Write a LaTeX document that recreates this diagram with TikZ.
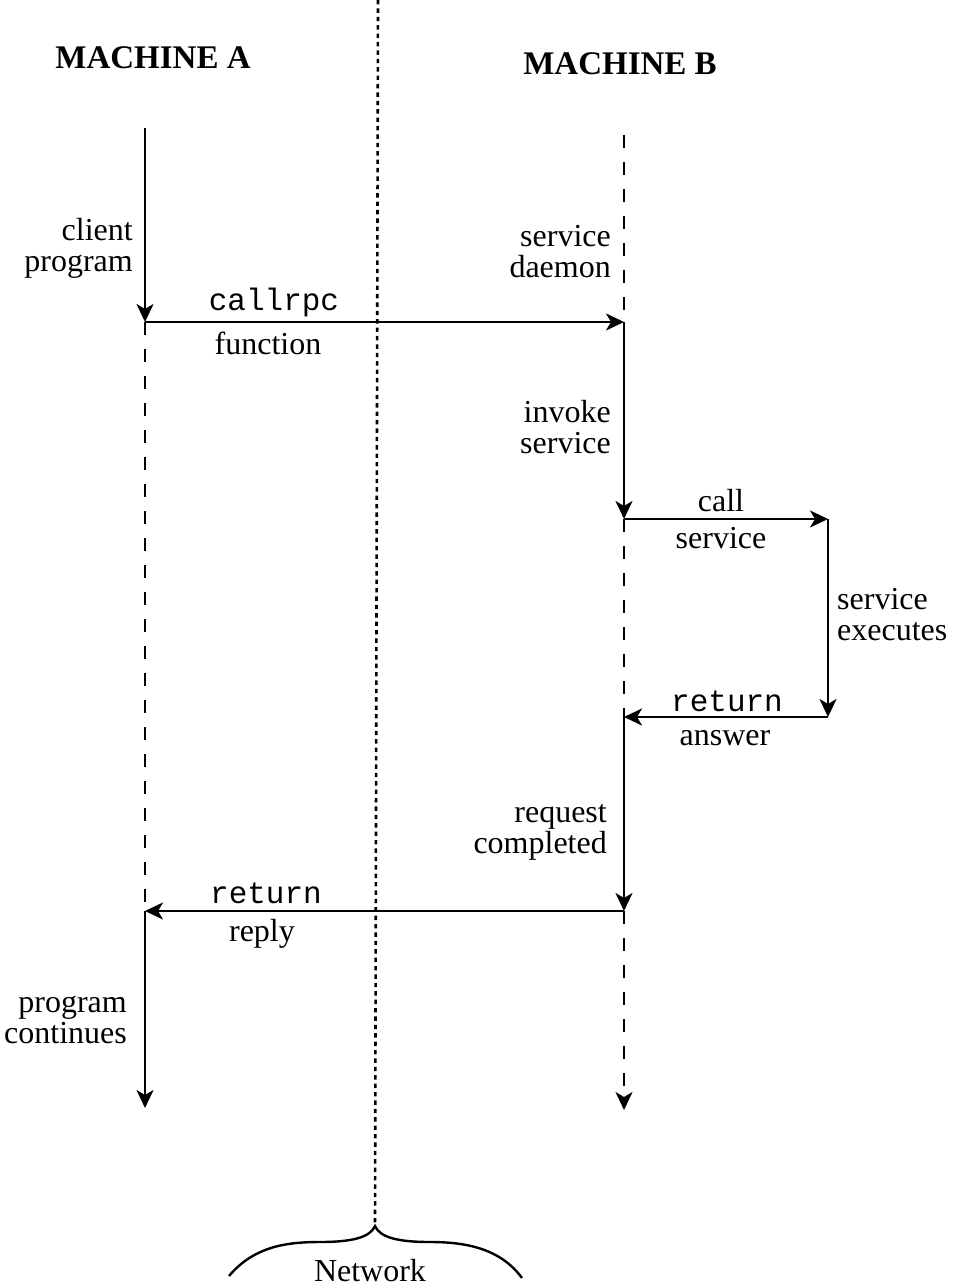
\documentclass[tikz,border=0pt]{standalone}
\usepackage{fontspec}
\setmainfont{Liberation Serif}
\setmonofont{Liberation Mono}
\usetikzlibrary{arrows.meta,calc}

\begin{document}
\begin{tikzpicture}[
    x=0.5pt,y=-0.5pt,
    line width=1.2pt,
    every node/.style={inner sep=0pt},
    txt/.style={font=\fontsize{16}{15.5}\selectfont},
    code/.style={font=\ttfamily\fontsize{15.5}{15}\selectfont},
    head/.style={font=\bfseries\fontsize{16.5}{16}\selectfont},
    msg/.style={-{Stealth[length=9pt,width=8.5pt,inset=2.5pt]}},
    idle/.style={dash pattern=on 6.5pt off 7pt},
    wire/.style={line width=1.3pt,dash pattern=on 2.2pt off 2pt},
  ]
  \useasboundingbox (0,0) rectangle (957,1288);
  % machine headings
  \node[head] (machine-a) at (153,58) {MACHINE A};
  \node[head] (machine-b) at (620,64) {MACHINE B};
  % points on the time lines
  \coordinate (a-top)   at (145,128);
  \coordinate (a-call)  at (145,322);
  \coordinate (a-wait)  at (145,905);
  \coordinate (a-reply) at (145,911);
  \coordinate (a-end)   at (145,1108);
  \coordinate (b-top)   at (624,135);
  \coordinate (b-call)  at (624,322);
  \coordinate (b-serv)  at (624,519);
  \coordinate (b-ans)   at (624,717);
  \coordinate (b-done)  at (624,911);
  \coordinate (b-end)   at (624,1110);
  \coordinate (s-call)  at (828,519);
  \coordinate (s-ret)   at (828,717);
  \coordinate (net-top) at (378,0);
  \coordinate (net-tip) at (375,1226);
  % labels
  \node[txt,anchor=east,align=right] (client)  at (134,248)  {client\\program};
  \node[code]                        (callrpc) at (274,302)  {callrpc};
  \node[txt]                         (func)    at (268,343)  {function};
  \node[txt,anchor=east,align=right] (daemon)  at (612,252)  {service\\daemon};
  \node[txt,anchor=east,align=right] (invoke)  at (612,427)  {invoke\\service};
  \node[txt]                         (call)    at (721,501)  {call};
  \node[txt]                         (service) at (721,538)  {service};
  \node[txt,anchor=west,align=left]  (exec)    at (836,615)  {service\\executes};
  \node[code]                        (ret-ans) at (727,701)  {return};
  \node[txt]                         (answer)  at (725,738)  {answer};
  \node[txt,anchor=east,align=right] (request) at (608,832)  {request\\completed};
  \node[code]                        (ret-rep) at (266,893)  {return};
  \node[txt]                         (reply)   at (262,934)  {reply};
  \node[txt,anchor=east,align=right] (cont)    at (128,1020) {program\\continues};
  \node[txt]                         (network) at (370,1271) {Network};
  % network boundary
  \draw[wire] (net-top) -- (net-tip);
  \draw (229,1276) .. controls (255,1245) and (290,1242) .. (320,1242)
    .. controls (350,1242) and (370,1238) .. (net-tip)
    .. controls (380,1238) and (400,1242) .. (430,1242)
    .. controls (465,1242) and (500,1248) .. (522,1278);
  % machine A
  \draw[msg] (a-top) -- (a-call);
  \draw[idle] (a-call) -- (a-wait);
  \draw[msg] (a-reply) -- (a-end);
  % machine B
  \draw[idle] (b-top) -- (b-call);
  \draw[msg] (b-call) -- (b-serv);
  \draw[idle] (b-serv) -- (b-ans);
  \draw[msg] (b-ans) -- (b-done);
  \draw[idle,msg] (b-done) -- (b-end);
  % service
  \draw[msg] (s-call) -- (s-ret);
  % messages
  \draw[msg] (a-call) -- (b-call);
  \draw[msg] (b-serv) -- (s-call);
  \draw[msg] (s-ret) -- (b-ans);
  \draw[msg] (b-done) -- (a-reply);
\end{tikzpicture}
\end{document}
